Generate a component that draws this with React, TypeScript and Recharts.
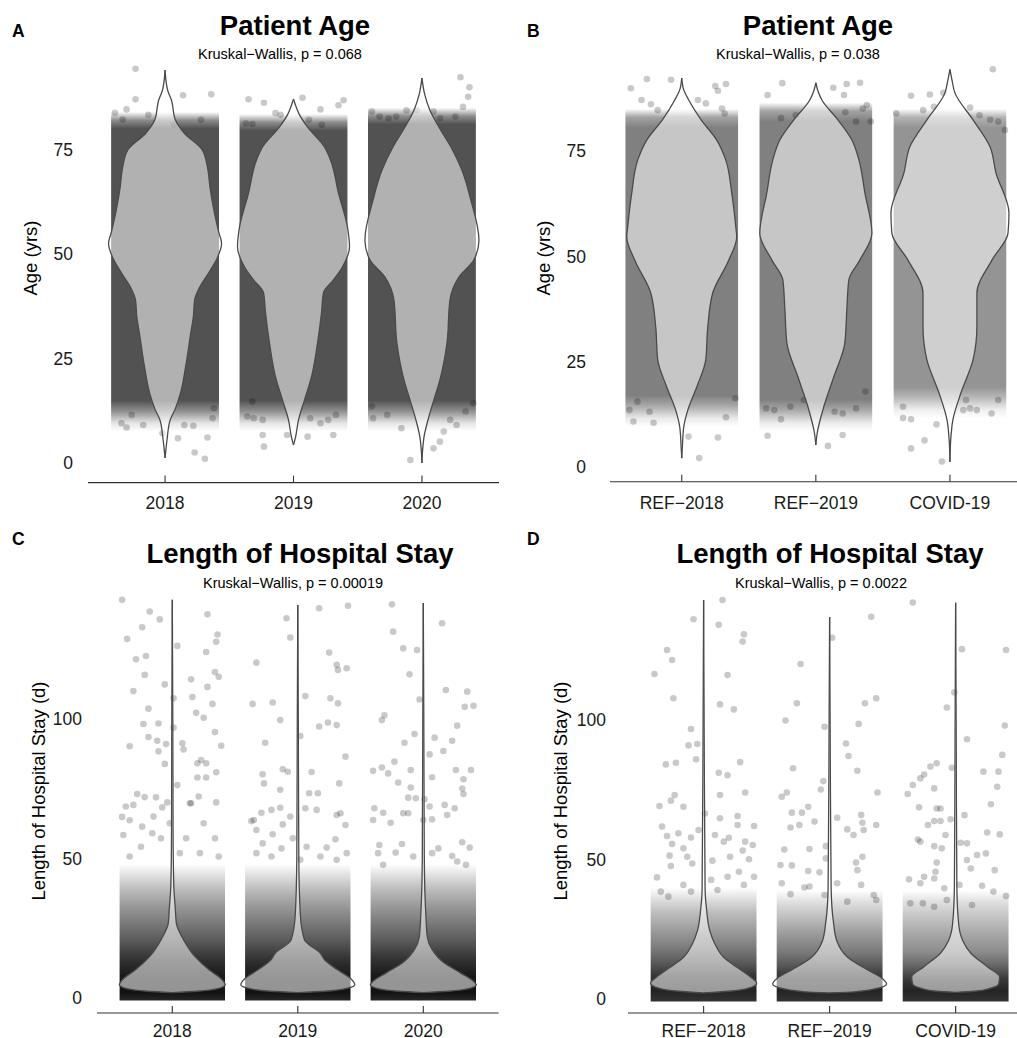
import React from "react";
import { ComposedChart, Area, Scatter, XAxis, YAxis, ReferenceArea } from "recharts";

const FONT = '"Liberation Sans", Arial, Helvetica, sans-serif';

type Pt = [number, number];

const YEARS = ["2018", "2019", "2020"];
const GROUPS = ["REF−2018", "REF−2019", "COVID-19"];
const AGE_TICKS = [0, 25, 50, 75];
const LOS_TICKS = [0, 50, 100];

// violin outlines: [value, half width in category units]
const AGE_V_2018: Pt[] = [[94.0, 0], [89.2, 0.02], [86.8, 0.05], [82.1, 0.08], [78.9, 0.15], [74.9, 0.29], [70.8, 0.33], [65.9, 0.35], [60.5, 0.38], [55.0, 0.42], [52.6, 0.44], [49.3, 0.41], [45.5, 0.34], [42.1, 0.27], [39.0, 0.23], [34.9, 0.22], [31.1, 0.2], [23.0, 0.16], [16.7, 0.12], [13.0, 0.08], [10.3, 0.04], [5.5, 0.015], [1.2, 0]];
const AGE_V_2019: Pt[] = [[87.1, 0], [85.6, 0.016], [83.3, 0.047], [80.4, 0.109], [75.6, 0.241], [72.5, 0.288], [64.6, 0.35], [56.5, 0.42], [51.7, 0.436], [46.9, 0.381], [43.8, 0.311], [40.7, 0.233], [35.9, 0.218], [28.7, 0.187], [20.6, 0.14], [15.1, 0.086], [10.3, 0.039], [6.2, 0.016], [4.3, 0]];
const AGE_V_2020: Pt[] = [[92.1, 0], [88.0, 0.023], [84.4, 0.062], [80.4, 0.132], [75.6, 0.226], [70.1, 0.311], [62.9, 0.381], [53.3, 0.444], [48.6, 0.405], [44.5, 0.288], [39.0, 0.218], [28.7, 0.195], [19.9, 0.14], [15.1, 0.093], [10.3, 0.047], [6.2, 0.016], [3.0, 0.005], [0, 0]];

const AGE_V_REF18: Pt[] = [[92.3, 0], [89.5, 0.015], [87.1, 0.052], [82.5, 0.142], [77.6, 0.261], [72.9, 0.328], [65.0, 0.373], [57.0, 0.403], [54.6, 0.41], [49.1, 0.351], [41.3, 0.231], [33.2, 0.194], [25.4, 0.179], [19.0, 0.112], [13.5, 0.045], [9.5, 0.015], [5.0, 0.005], [2.1, 0]];
const AGE_V_REF19: Pt[] = [[91.2, 0], [89.3, 0.015], [87.1, 0.045], [82.4, 0.164], [77.6, 0.269], [72.9, 0.321], [65.0, 0.366], [55.5, 0.418], [49.1, 0.328], [44.4, 0.246], [37.3, 0.231], [29.4, 0.216], [21.4, 0.134], [13.5, 0.052], [8.0, 0.01], [5.2, 0]];
const AGE_V_COVID: Pt[] = [[94.4, 0], [91.9, 0.015], [88.8, 0.037], [82.4, 0.172], [76.0, 0.299], [69.8, 0.343], [60.3, 0.44], [55.5, 0.433], [49.1, 0.313], [41.3, 0.201], [33.2, 0.201], [25.4, 0.172], [17.6, 0.082], [11.2, 0.022], [6.0, 0.005], [1.2, 0]];

const LOS_V_2018: Pt[] = [[142.7, 0], [100, 0.004], [60, 0.006], [40, 0.012], [32, 0.024], [26.8, 0.032], [21, 0.088], [14.7, 0.183], [10, 0.295], [6.5, 0.398], [4.7, 0.422], [3.3, 0.36], [2.4, 0.2], [1.9, 0]];
const LOS_V_2019: Pt[] = [[140.9, 0], [100, 0.004], [50, 0.008], [30, 0.02], [20.8, 0.053], [16.0, 0.18], [13.6, 0.215], [10, 0.319], [7.2, 0.414], [4.7, 0.454], [3.3, 0.38], [2.4, 0.22], [1.9, 0]];
const LOS_V_2020: Pt[] = [[141.6, 0], [100, 0.004], [50, 0.008], [30, 0.02], [21.9, 0.032], [17.2, 0.072], [12.5, 0.167], [9.0, 0.295], [5.7, 0.406], [4.7, 0.422], [3.3, 0.36], [2.4, 0.2], [1.9, 0]];

const LOS_V_REF18: Pt[] = [[143, 0], [100, 0.004], [39, 0.012], [31.9, 0.024], [24.7, 0.048], [20, 0.087], [15, 0.159], [11.5, 0.262], [7.9, 0.373], [5.7, 0.421], [3.9, 0.357], [2.8, 0.2], [2.2, 0]];
const LOS_V_REF19: Pt[] = [[136.9, 0], [100, 0.004], [40, 0.012], [27, 0.032], [21, 0.056], [15, 0.143], [10.4, 0.302], [7.5, 0.413], [5.4, 0.452], [3.6, 0.357], [2.6, 0.2], [2.2, 0]];
const LOS_V_COVID: Pt[] = [[142, 0], [100, 0.004], [40, 0.01], [27, 0.024], [21, 0.056], [16.5, 0.119], [11.5, 0.254], [7.9, 0.349], [5.4, 0.341], [3.9, 0.278], [2.8, 0.15], [2.4, 0]];

// density of the jittered cloud: [value, darkness], top to bottom
const AGE_BAND_YEARS: Pt[][] = [
  [[84, 0], [82, 0.45], [80, 0.68], [15, 0.68], [12.5, 0.45], [9.5, 0.1], [7.5, 0]],
  [[83.5, 0], [81.5, 0.45], [79.5, 0.68], [15, 0.68], [12.5, 0.45], [9.5, 0.1], [7.5, 0]],
  [[85, 0], [83, 0.45], [81, 0.68], [15, 0.68], [12.5, 0.45], [9.5, 0.1], [7.5, 0]],
];
const AGE_BAND_GROUPS: Pt[][] = [
  [[85, 0], [83, 0.36], [80.5, 0.5], [17, 0.5], [14.5, 0.34], [11.5, 0.08], [9.5, 0]],
  [[86.5, 0], [84.5, 0.36], [82, 0.5], [16, 0.5], [13.5, 0.34], [10.5, 0.08], [8.5, 0]],
  [[85, 0], [83, 0.3], [80.5, 0.42], [19, 0.42], [16.5, 0.28], [13.5, 0.06], [11.5, 0]],
];
const LOS_BAND_YEARS: Pt[][] = [
  [[48, 0], [44, 0.12], [39, 0.26], [33, 0.4], [27, 0.52], [20, 0.66], [14, 0.8], [8, 0.9], [2, 0.93], [-0.9, 0.85]],
  [[48, 0], [44, 0.12], [39, 0.26], [33, 0.4], [27, 0.52], [20, 0.66], [14, 0.8], [8, 0.9], [2, 0.93], [-0.9, 0.85]],
  [[48, 0], [44, 0.12], [39, 0.26], [33, 0.4], [27, 0.52], [20, 0.66], [14, 0.8], [8, 0.9], [2, 0.93], [-0.9, 0.85]],
];
const LOS_BAND_GROUPS: Pt[][] = [
  [[40, 0], [36, 0.12], [31, 0.26], [25, 0.38], [19, 0.5], [13, 0.65], [8, 0.8], [3, 0.86], [-0.9, 0.8]],
  [[39, 0], [35, 0.12], [29, 0.26], [23, 0.4], [17, 0.52], [12, 0.66], [7, 0.82], [3, 0.86], [-0.9, 0.8]],
  [[39, 0], [35, 0.12], [29, 0.24], [23, 0.35], [17, 0.45], [12, 0.6], [7, 0.78], [3, 0.86], [-0.9, 0.8]],
];

// sparse jittered points: [offset from category, value]
const AGE_P_2018: Pt[] = [[-0.23, 94.3], [-0.23, 87.0], [-0.3, 84.6], [-0.39, 83.8], [-0.33, 82.2], [-0.13, 83.3], [0.14, 88.0], [0.36, 88.2], [0.28, 82.1], [0.07, 80.9], [-0.34, 9.5], [-0.3, 8.5], [-0.17, 9.1], [-0.02, 7.1], [0.1, 5.9], [0.15, 9.1], [0.22, 8.9], [0.33, 6.1], [0.37, 10.7], [0.23, 2.5], [0.31, 1.0], [-0.26, 11.5], [0.38, 13.1]];
const AGE_P_2019: Pt[] = [[-0.35, 87.0], [-0.23, 86.2], [0.07, 87.4], [0.21, 84.6], [0.35, 85.6], [0.39, 86.8], [-0.14, 83.7], [-0.1, 83.3], [0.12, 82.1], [0.22, 80.9], [-0.37, 81.3], [-0.32, 81.1], [-0.36, 11.1], [-0.31, 10.7], [-0.24, 10.3], [-0.32, 14.7], [-0.24, 6.7], [-0.23, 3.9], [-0.05, 6.7], [0.11, 6.3], [0.13, 10.7], [0.21, 9.5], [0.31, 6.7], [0.27, 10.3], [0.33, 11.5]];
const AGE_P_2020: Pt[] = [[0.3, 92.3], [0.37, 89.9], [0.36, 87.6], [0.32, 85.2], [0.26, 82.9], [-0.39, 84.1], [-0.33, 82.9], [-0.26, 82.5], [-0.2, 82.9], [-0.12, 84.4], [-0.04, 84.4], [0.09, 84.1], [0.14, 82.5], [-0.39, 13.5], [-0.38, 10.7], [-0.27, 11.5], [-0.16, 8.3], [-0.09, 0.7], [0.09, 3.5], [0.14, 5.1], [0.17, 7.5], [0.22, 10.3], [0.27, 9.1], [0.34, 12.3], [0.4, 14.3]];

const AGE_P_REF18: Pt[] = [[-0.38, 89.9], [-0.26, 92.1], [-0.08, 91.9], [-0.3, 87.1], [-0.23, 86.1], [-0.18, 84.7], [0.12, 87.1], [0.18, 86.3], [0.25, 90.4], [0.27, 89.3], [0.33, 90.9], [0.3, 85.1], [0.32, 83.9], [-0.39, 13.5], [-0.36, 10.8], [-0.21, 10.5], [0.05, 7.2], [0.13, 2.1], [0.27, 7.0], [0.33, 11.8], [0.4, 16.3], [-0.33, 15.5], [-0.24, 13.1]];
const AGE_P_REF19: Pt[] = [[-0.36, 88.3], [-0.25, 91.1], [0.13, 90.0], [0.21, 88.3], [0.23, 90.9], [0.33, 91.2], [0.38, 85.9], [0.35, 85.1], [0.22, 84.2], [-0.26, 82.8], [-0.15, 83.5], [0.41, 82.0], [0.3, 82.0], [-0.36, 7.4], [-0.26, 11.3], [0.09, 5.0], [0.2, 7.6], [-0.37, 13.9], [-0.31, 13.5], [-0.19, 14.3], [-0.09, 15.9], [0.2, 12.7], [0.3, 13.9], [0.37, 17.9], [0.14, 13.1]];
const AGE_P_COVID: Pt[] = [[0.32, 94.4], [-0.29, 88.1], [-0.15, 88.4], [-0.05, 88.8], [-0.2, 84.7], [-0.12, 85.5], [0.15, 85.3], [0.22, 83.5], [-0.4, 83.9], [0.3, 82.4], [0.36, 82.0], [0.41, 80.0], [-0.35, 11.6], [-0.29, 11.3], [-0.29, 4.4], [-0.19, 6.3], [-0.1, 10.1], [-0.06, 1.3], [0.1, 13.5], [0.15, 13.9], [0.2, 13.5], [0.31, 12.7], [0.12, 15.9], [0.36, 15.9], [-0.35, 14.3]];

const LOS_P_2018: Pt[] = [[-0.4, 142.7], [-0.36, 128.7], [-0.18, 138.5], [-0.1, 135.7], [-0.24, 132.9], [-0.29, 121.4], [-0.21, 122.6], [-0.22, 115.8], [-0.31, 110.0], [-0.19, 103.7], [-0.34, 90.2], [-0.23, 98.2], [-0.19, 93.5], [-0.11, 98.4], [-0.12, 92.2], [-0.11, 88.4], [-0.05, 91.0], [-0.06, 83.9], [-0.06, 112.4], [0.01, 107.4], [0.04, 126.2], [0.01, 96.9], [0.08, 91.3], [0.09, 89.1], [0.15, 114.2], [0.16, 107.9], [0.19, 102.2], [0.25, 100.4], [0.28, 111.5], [0.27, 124.0], [0.28, 137.5], [0.36, 130.3], [0.35, 127.7], [0.34, 116.8], [0.37, 115.1], [0.32, 105.4], [0.34, 95.3], [0.39, 90.4], [0.2, 84.1], [0.23, 85.3], [0.27, 84.1], [0.35, 80.9], [0.2, 79.0], [0.27, 79.0], [0.35, 70.1], [0.21, 72.2], [0.15, 69.8], [0.04, 76.3], [-0.04, 70.1], [-0.08, 68.3], [-0.13, 71.9], [-0.22, 72.0], [-0.28, 73.1], [-0.31, 69.2], [-0.37, 68.6], [-0.4, 64.9], [-0.39, 58.4], [-0.34, 63.7], [-0.24, 61.4], [-0.16, 59.0], [-0.09, 57.2], [-0.15, 65.0], [-0.02, 62.6], [0.14, 69.8], [0.25, 62.6], [0.34, 57.2], [0.11, 57.2], [-0.25, 54.2], [-0.34, 50.7], [0.06, 51.9], [0.22, 51.9], [0.37, 50.7]];
const LOS_P_2019: Pt[] = [[-0.09, 136.1], [-0.06, 129.2], [0.17, 139.7], [0.4, 140.6], [0.25, 123.8], [0.31, 119.4], [0.32, 117.6], [0.39, 118.2], [-0.33, 120.2], [-0.36, 105.4], [-0.2, 105.9], [0.06, 108.2], [-0.14, 99.6], [-0.26, 91.5], [0.02, 93.9], [0.17, 97.3], [0.24, 98.7], [0.31, 97.8], [0.26, 107.4], [0.32, 105.6], [0.38, 86.5], [0.33, 76.9], [-0.28, 80.2], [-0.27, 76.9], [-0.12, 82.0], [-0.08, 81.1], [-0.14, 74.6], [-0.14, 68.2], [0.11, 81.0], [0.09, 73.4], [0.16, 73.4], [0.06, 68.0], [-0.06, 65.0], [0.15, 67.4], [0.31, 65.6], [0.34, 66.2], [0.38, 62.0], [0.3, 56.9], [0.23, 53.9], [-0.35, 63.8], [-0.37, 63.4], [-0.33, 60.2], [-0.29, 66.4], [-0.21, 67.4], [-0.12, 62.2], [-0.2, 58.7], [-0.28, 55.4], [-0.04, 57.2], [0.07, 54.2], [-0.13, 53.6], [-0.33, 51.9], [-0.21, 50.7], [0.18, 50.7], [0.31, 49.5], [0.39, 51.9], [0.02, 49.5]];
const LOS_P_2020: Pt[] = [[-0.25, 141.1], [-0.24, 131.3], [-0.16, 125.3], [-0.05, 124.7], [-0.11, 116.0], [0.15, 134.3], [-0.03, 107.0], [0.18, 110.4], [0.35, 109.8], [0.33, 104.4], [0.4, 104.7], [0.27, 97.6], [-0.33, 99.6], [-0.31, 101.3], [-0.07, 94.6], [-0.15, 91.5], [0.09, 93.3], [0.23, 92.2], [0.16, 88.5], [0.05, 87.3], [0.07, 79.1], [-0.23, 84.7], [-0.28, 80.5], [-0.4, 81.4], [-0.33, 82.6], [-0.2, 77.2], [-0.1, 81.7], [0.26, 81.7], [0.38, 81.7], [0.32, 78.4], [0.31, 75.1], [0.32, 73.1], [-0.1, 75.4], [-0.12, 71.8], [-0.06, 71.6], [0.01, 71.2], [0.25, 68.0], [0.17, 69.2], [0.19, 65.6], [-0.39, 68.0], [-0.4, 63.8], [-0.32, 66.4], [-0.26, 62.8], [-0.16, 66.2], [-0.12, 66.2], [0.0, 63.8], [0.07, 64.0], [0.05, 68.6], [-0.17, 55.2], [-0.22, 52.1], [0.12, 53.6], [0.23, 50.9], [0.31, 55.8], [0.37, 53.9], [-0.35, 54.8], [-0.36, 51.9], [-0.32, 47.7], [-0.08, 50.7], [0.07, 51.9], [0.27, 48.9], [0.34, 47.7]];

const LOS_P_REF18: Pt[] = [[-0.39, 116.5], [-0.29, 125.1], [-0.25, 121.5], [-0.24, 107.8], [-0.08, 136.1], [0.15, 143.0], [0.12, 134.1], [0.13, 105.6], [0.19, 116.1], [0.24, 103.8], [0.32, 130.7], [0.31, 128.1], [-0.1, 96.8], [-0.12, 90.9], [-0.05, 91.4], [-0.3, 84.1], [-0.22, 84.7], [-0.06, 85.9], [0.12, 81.1], [0.19, 80.2], [0.29, 84.9], [-0.35, 69.2], [-0.26, 71.1], [-0.23, 73.1], [-0.16, 68.9], [-0.33, 61.8], [-0.29, 58.4], [-0.25, 55.6], [-0.2, 59.4], [-0.1, 57.9], [-0.04, 60.6], [0.01, 66.5], [0.13, 73.1], [0.13, 64.8], [0.2, 57.8], [0.27, 65.6], [0.33, 74.0], [0.27, 62.4], [0.4, 62.0], [0.33, 56.4], [0.39, 55.2], [-0.27, 51.4], [-0.26, 47.7], [-0.16, 54.0], [-0.13, 51.0], [-0.09, 48.6], [0.07, 49.6], [0.09, 58.8], [0.16, 56.4], [0.21, 51.0], [0.31, 53.2], [0.28, 45.6], [0.36, 50.1], [-0.37, 43.6], [-0.34, 38.5], [-0.28, 36.7], [-0.16, 40.9], [-0.1, 38.5], [0.06, 42.7], [0.11, 39.1], [0.19, 43.8], [0.32, 40.9], [0.4, 43.8]];
const LOS_P_REF19: Pt[] = [[0.33, 137.0], [0.02, 129.5], [-0.23, 120.1], [-0.26, 106.0], [-0.35, 99.8], [0.37, 107.8], [0.28, 106.0], [0.23, 98.6], [-0.04, 97.6], [0.13, 91.6], [0.15, 87.1], [0.22, 81.8], [-0.29, 82.7], [-0.05, 78.1], [-0.07, 75.1], [0.38, 74.0], [-0.38, 72.5], [-0.34, 74.0], [-0.3, 66.8], [-0.22, 66.8], [-0.17, 68.9], [-0.12, 63.6], [0.06, 65.0], [0.25, 66.0], [0.26, 63.2], [0.37, 62.4], [0.14, 60.8], [0.19, 58.8], [0.27, 60.6], [-0.31, 61.5], [-0.24, 62.4], [-0.36, 53.6], [-0.16, 53.8], [-0.03, 54.8], [-0.3, 47.9], [-0.39, 48.0], [-0.17, 45.9], [-0.08, 45.4], [-0.03, 50.4], [0.21, 48.9], [0.26, 51.0], [0.22, 46.2], [-0.38, 41.5], [-0.31, 37.6], [-0.2, 40.0], [-0.16, 40.3], [-0.04, 37.3], [0.06, 41.5], [0.14, 34.9], [0.25, 40.9], [0.35, 37.3], [0.37, 35.5]];
const LOS_P_COVID: Pt[] = [[-0.34, 142.1], [0.05, 125.4], [0.4, 125.1], [-0.01, 109.9], [-0.07, 104.5], [0.09, 93.1], [0.39, 98.0], [0.37, 87.5], [0.22, 81.5], [0.34, 81.5], [0.33, 76.1], [0.28, 69.8], [0.25, 59.7], [0.35, 59.0], [-0.15, 84.5], [-0.2, 83.3], [-0.25, 80.5], [-0.28, 79.1], [-0.34, 76.7], [-0.38, 73.5], [-0.17, 75.5], [-0.15, 68.3], [-0.12, 68.3], [-0.12, 63.8], [-0.17, 63.8], [-0.22, 62.4], [-0.29, 68.7], [-0.04, 64.4], [0.07, 65.9], [-0.03, 82.9], [-0.3, 57.2], [-0.28, 56.4], [-0.17, 54.8], [-0.11, 54.0], [-0.08, 58.8], [0.04, 56.0], [0.09, 55.8], [0.17, 51.6], [0.24, 52.2], [0.31, 46.2], [0.09, 49.8], [0.12, 46.8], [-0.15, 48.9], [-0.16, 45.6], [-0.37, 42.9], [-0.28, 41.5], [-0.25, 43.8], [-0.17, 43.2], [-0.09, 39.7], [0.03, 40.9], [0.21, 40.6], [0.3, 38.5], [0.4, 36.9], [-0.36, 34.3], [-0.26, 34.3], [-0.17, 33.1], [-0.07, 35.5], [0.13, 33.7]];

const BAND_HALF = 0.42;

function buildRows(violins: Pt[][]) {
  const vs = Array.from(new Set(violins.flat().map((p) => p[0]))).sort((a, b) => b - a);
  return vs.map((v) => {
    const row: Record<string, any> = { v };
    violins.forEach((vl, i) => {
      const hit = vl.find((p) => p[0] === v);
      row["c" + i] = hit ? [i + 1 - hit[1], i + 1 + hit[1]] : [null, null];
    });
    return row;
  });
}

const Dot = (p: any) => <circle cx={p.cx} cy={p.cy} r={3.3} fill="#000" fillOpacity={0.21} />;

interface PanelProps {
  id: string;
  cats: string[];
  violins: Pt[][];
  bands: Pt[][];
  points: Pt[][];
  yTicks: number[];
  xDomain: [number, number];
  yDomain: [number, number];
  width: number;
  height: number;
  margin: { top: number; right: number; bottom: number; left: number };
  xAxisHeight: number;
  xTickGap: number;
  yTickGap: number;
  style: React.CSSProperties;
}

function ViolinPanel(p: PanelProps) {
  const rows = buildRows(p.violins);
  const tickFont = { fill: "#1a1a1a", fontSize: 17.5, fontFamily: FONT };
  return (
    <div style={{ position: "absolute", ...p.style }}>
      <ComposedChart layout="vertical" width={p.width} height={p.height} data={rows} margin={p.margin}>
        <defs>
          {p.bands.map((b, i) => {
            const top = b[0][0];
            const bottom = b[b.length - 1][0];
            return (
              <linearGradient key={i} id={`${p.id}-band-${i}`} x1="0" y1="0" x2="0" y2="1">
                {b.map(([v, o], j) => (
                  <stop key={j} offset={(top - v) / (top - bottom)} stopColor="#000" stopOpacity={o} />
                ))}
              </linearGradient>
            );
          })}
        </defs>
        <XAxis
          type="number"
          dataKey="x"
          domain={p.xDomain}
          allowDataOverflow
          ticks={[1, 2, 3]}
          interval={0}
          tickFormatter={(t) => p.cats[Number(t) - 1] ?? ""}
          height={p.xAxisHeight}
          axisLine={{ stroke: "#333", strokeWidth: 1.1 }}
          tickLine={{ stroke: "#333", strokeWidth: 1.1 }}
          tickSize={-7}
          tickMargin={p.xTickGap}
          tick={tickFont}
        />
        <YAxis
          type="number"
          dataKey="v"
          domain={p.yDomain}
          allowDataOverflow
          reversed
          ticks={p.yTicks}
          interval={0}
          width={60}
          axisLine={false}
          tickLine={false}
          tickSize={0}
          tickMargin={p.yTickGap}
          tick={tickFont}
        />
        {p.bands.map((b, i) => (
          <ReferenceArea
            key={"band" + i}
            x1={i + 1 - BAND_HALF}
            x2={i + 1 + BAND_HALF}
            y1={b[b.length - 1][0]}
            y2={b[0][0]}
            fill={`url(#${p.id}-band-${i})`}
            fillOpacity={1}
            stroke="none"
            ifOverflow="visible"
            zIndex={10}
          />
        ))}
        {p.points.map((pts, i) => (
          <Scatter
            key={"pts" + i}
            data={pts.map(([dx, v]) => ({ x: i + 1 + dx, v }))}
            shape={Dot}
            isAnimationActive={false}
            zIndex={20}
          />
        ))}
        {p.violins.map((_, i) => (
          <Area
            key={"vio" + i}
            dataKey={"c" + i}
            type="monotone"
            connectNulls
            fill="#ffffff"
            fillOpacity={0.55}
            stroke="#4a4a4a"
            strokeWidth={1.3}
            dot={false}
            activeDot={false}
            isAnimationActive={false}
            zIndex={30}
          />
        ))}
      </ComposedChart>
    </div>
  );
}

export default function App() {
  return (
    <div style={{ position: "absolute", left: 0, top: 0, width: 1017, height: 1038, background: "#fff", overflow: "hidden", fontFamily: FONT }}>
      <ViolinPanel
        id="a"
        cats={YEARS}
        violins={[AGE_V_2018, AGE_V_2019, AGE_V_2020]}
        bands={AGE_BAND_YEARS}
        points={[AGE_P_2018, AGE_P_2019, AGE_P_2020]}
        yTicks={AGE_TICKS}
        xDomain={[0.4, 3.6]}
        yDomain={[-4.7, 99.7]}
        width={500}
        height={520}
        margin={{ top: 46.3, right: 1, bottom: 7.4, left: 28 }}
        xAxisHeight={30}
        xTickGap={21}
        yTickGap={15}
        style={{ left: 0, top: 0 }}
      />
      <ViolinPanel
        id="b"
        cats={GROUPS}
        violins={[AGE_V_REF18, AGE_V_REF19, AGE_V_COVID]}
        bands={AGE_BAND_GROUPS}
        points={[AGE_P_REF18, AGE_P_REF19, AGE_P_COVID]}
        yTicks={AGE_TICKS}
        xDomain={[0.465, 3.5]}
        yDomain={[-3.5, 98]}
        width={517}
        height={520}
        margin={{ top: 54.1, right: 0, bottom: 8.3, left: 50 }}
        xAxisHeight={30}
        xTickGap={22}
        yTickGap={24}
        style={{ left: 500, top: 0 }}
      />
      <ViolinPanel
        id="c"
        cats={YEARS}
        violins={[LOS_V_2018, LOS_V_2019, LOS_V_2020]}
        bands={LOS_BAND_YEARS}
        points={[LOS_P_2018, LOS_P_2019, LOS_P_2020]}
        yTicks={LOS_TICKS}
        xDomain={[0.4, 3.6]}
        yDomain={[-5.4, 150]}
        width={500}
        height={518}
        margin={{ top: 59.5, right: 1.4, bottom: 5, left: 37 }}
        xAxisHeight={20}
        xTickGap={19}
        yTickGap={15}
        style={{ left: 0, top: 520 }}
      />
      <ViolinPanel
        id="d"
        cats={GROUPS}
        violins={[LOS_V_REF18, LOS_V_REF19, LOS_V_COVID]}
        bands={LOS_BAND_GROUPS}
        points={[LOS_P_REF18, LOS_P_REF19, LOS_P_COVID]}
        yTicks={LOS_TICKS}
        xDomain={[0.4, 3.487]}
        yDomain={[-5, 150]}
        width={517}
        height={518}
        margin={{ top: 60.5, right: 0, bottom: 5, left: 68 }}
        xAxisHeight={20}
        xTickGap={19}
        yTickGap={22}
        style={{ left: 500, top: 520 }}
      />
      <svg width={1017} height={1038} style={{ position: "absolute", left: 0, top: 0, pointerEvents: "none" }}>
        <g fontFamily={FONT} fill="#000">
          <text x={12} y={36.7} fontSize={17.5} fontWeight="bold">A</text>
          <text x={527} y={36.7} fontSize={17.5} fontWeight="bold">B</text>
          <text x={12} y={545} fontSize={17.5} fontWeight="bold">C</text>
          <text x={527} y={545} fontSize={17.5} fontWeight="bold">D</text>
          <text x={295} y={35} fontSize={27.5} fontWeight="bold" textAnchor="middle">Patient Age</text>
          <text x={818} y={35} fontSize={27.5} fontWeight="bold" textAnchor="middle">Patient Age</text>
          <text x={300} y={563} fontSize={27.5} fontWeight="bold" textAnchor="middle">Length of Hospital Stay</text>
          <text x={830} y={563} fontSize={27.5} fontWeight="bold" textAnchor="middle">Length of Hospital Stay</text>
          <text x={198} y={59} fontSize={14.5}>Kruskal−Wallis, p = 0.068</text>
          <text x={716} y={59} fontSize={14.5}>Kruskal−Wallis, p = 0.038</text>
          <text x={203} y={588} fontSize={14.5}>Kruskal−Wallis, p = 0.00019</text>
          <text x={735} y={588} fontSize={14.5}>Kruskal−Wallis, p = 0.0022</text>
          <text x={36.5} y={258} fontSize={18.5} textAnchor="middle" transform="rotate(-90 36.5 258)">Age (yrs)</text>
          <text x={549.5} y={258} fontSize={18.5} textAnchor="middle" transform="rotate(-90 549.5 258)">Age (yrs)</text>
          <text x={44.5} y={791} fontSize={18.5} textAnchor="middle" transform="rotate(-90 44.5 791)">Length of Hospital Stay (d)</text>
          <text x={566.5} y={791} fontSize={18.5} textAnchor="middle" transform="rotate(-90 566.5 791)">Length of Hospital Stay (d)</text>
        </g>
      </svg>
    </div>
  );
}
